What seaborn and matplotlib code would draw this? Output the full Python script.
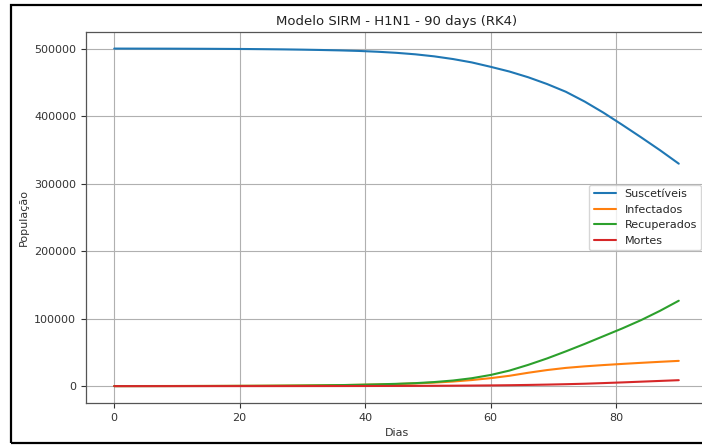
import numpy as np
import pandas as pd
import matplotlib
matplotlib.use("Agg")
import matplotlib.pyplot as plt
from matplotlib.patches import Rectangle
import seaborn as sns

dias = [0, 3, 6, 9, 12, 15, 18, 21, 24, 27, 30, 33, 36, 39, 42, 45, 48, 51, 54, 57,
        60, 63, 66, 69, 72, 75, 78, 81, 84, 87, 90]
suscetiveis = [500000, 499950, 499900, 499850, 499750, 499650, 499500, 499350, 499100,
               498800, 498400, 497900, 497300, 496500, 495300, 493700, 491500, 488500,
               484500, 479500, 473000, 466000, 457500, 447500, 436000, 421500, 405000,
               387000, 368500, 349500, 329500]
infectados = [100, 120, 150, 190, 240, 300, 380, 480, 600, 760, 960, 1200, 1500, 1900,
              2400, 3100, 4000, 5200, 6800, 9000, 11800, 15300, 19800, 23800, 27000,
              29300, 31200, 32900, 34500, 36000, 37400]
recuperados = [0, 30, 70, 110, 160, 220, 300, 400, 520, 680, 880, 1150, 1500, 2000, 2600,
               3400, 4400, 6000, 8300, 11700, 16500, 23000, 31500, 41000, 51500, 62500,
               74000, 85500, 97800, 111500, 126500]
mortes = [0, 3, 7, 11, 16, 22, 30, 40, 52, 67, 85, 108, 140, 180, 230, 300, 390, 500,
          640, 820, 1050, 1350, 1750, 2250, 2850, 3550, 4500, 5500, 6600, 7700, 8800]

series_names = ["Suscetíveis", "Infectados", "Recuperados", "Mortes"]
series_vals = [suscetiveis, infectados, recuperados, mortes]

df = pd.concat([pd.DataFrame({"Dias": dias, "População": v, "Série": n})
                for n, v in zip(series_names, series_vals)], ignore_index=True)

sns.set_style("ticks")
plt.rcParams['font.family'] = ['DejaVu Sans']

W, H = 702, 446
fig = plt.figure(figsize=(W / 100, H / 100), dpi=100)
ax = fig.add_axes([86 / W, (H - 403) / H, (707 - 86) / W, (403 - 31.7) / H])

palette = ["#1f77b4", "#ff7f0e", "#2ca02c", "#d62728"]
sns.lineplot(data=df, x="Dias", y="População", hue="Série", palette=palette,
             linewidth=1.5, ax=ax)

ax.set_xlim(-4.5, 94.5)
ax.set_ylim(-25000, 525000)
ax.set_xticks([0, 20, 40, 60, 80])
ax.set_yticks([0, 100000, 200000, 300000, 400000, 500000])
ax.grid(True, color="#b0b0b0", linewidth=0.8)
for s in ax.spines.values():
    s.set_color("#555555")
    s.set_linewidth(0.9)
ax.tick_params(labelsize=8, colors="#333333", length=3.5, width=0.8)
ax.set_title("Modelo SIRM - H1N1 - 90 days (RK4)", fontsize=9.5, color="#222222", pad=5)
ax.set_xlabel("Dias", fontsize=8, color="#333333")
ax.set_ylabel("População", fontsize=8, color="#333333")
leg = ax.legend(loc="center right", fontsize=8, title=None, frameon=True)
leg.get_frame().set_edgecolor("#cccccc")

fig.add_artist(Rectangle((11 / W, 3 / H), 1.0, 438 / H, transform=fig.transFigure,
                         fill=False, edgecolor="black", linewidth=1.6))

fig.savefig("out.png", dpi=100)
